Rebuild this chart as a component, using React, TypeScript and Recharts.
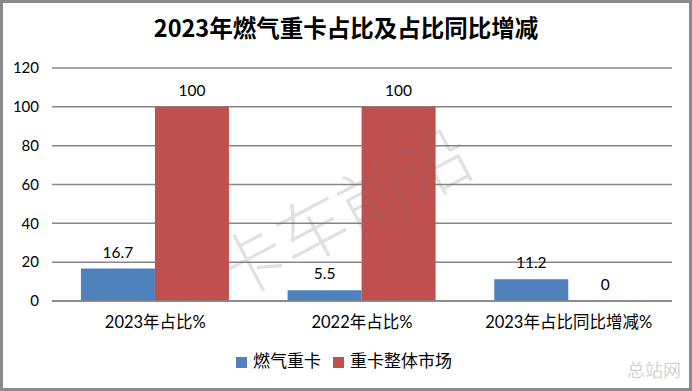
import React from "react";
import { BarChart, Bar, XAxis, YAxis, CartesianGrid, Legend, LabelList } from "recharts";

const categories = ["2023年占比%", "2022年占比%", "2023年占比同比增减%"];
const gasTruck = [16.7, 5.5, 11.2];
const wholeMarket = [100, 100, 0];
const yTicks = [0, 20, 40, 60, 80, 100, 120];

const data = categories.map((name, i) => ({
  name,
  gas: gasTruck[i],
  market: wholeMarket[i],
}));

const FONT = "Lato, 'Noto Sans CJK SC', sans-serif";

export default function App() {
  return (
    <div
      style={{
        position: "absolute",
        left: 0,
        top: 0,
        width: 692,
        height: 391,
        background: "#fff",
        boxSizing: "border-box",
        border: "3px solid #8a8a8a",
        fontFamily: FONT,
        overflow: "hidden",
      }}
    >
      <div
        style={{
          position: "absolute",
          left: 0,
          right: 0,
          top: 7,
          textAlign: "center",
          fontSize: 23.5,
          fontWeight: 700,
          color: "#000",
          fontFamily: "'Noto Sans CJK SC', sans-serif",
        }}
      >
        2023年燃气重卡占比及占比同比增减
      </div>
      <div style={{ position: "absolute", left: -3, top: -3 }}>
        <BarChart
          width={692}
          height={391}
          data={data}
          margin={{ top: 68, right: 20, left: 0, bottom: 10 }}
          barCategoryGap="14%"
          barGap={0}
        >
          <CartesianGrid vertical={false} stroke="#868686" strokeWidth={1.5} />
          <XAxis
            dataKey="name"
            height={46}
            axisLine={{ stroke: "#868686", strokeWidth: 1.5 }}
            tickLine={false}
            tickSize={0}
            tickMargin={15}
            tick={{ fill: "#000", fontSize: 16.5, fontFamily: FONT }}
          />
          <YAxis
            width={52}
            domain={[0, 120]}
            ticks={yTicks}
            axisLine={false}
            tickLine={false}
            tickSize={0}
            tickMargin={13}
            tick={{ fill: "#000", fontSize: 15, fontFamily: FONT }}
          />
          <Legend
            verticalAlign="bottom"
            height={34}
            iconType="square"
            iconSize={11}
            wrapperStyle={{ fontSize: 17, fontFamily: FONT, paddingLeft: 14 }}
            formatter={(v: string) => <span style={{ color: "#000", marginLeft: 2, marginRight: 2 }}>{v}</span>}
          />
          <Bar dataKey="gas" name="燃气重卡" fill="#4F81BD" isAnimationActive={false}>
            <LabelList dataKey="gas" position="top" offset={11} fill="#000" fontSize={15.5} fontFamily={FONT} />
          </Bar>
          <Bar dataKey="market" name="重卡整体市场" fill="#C0504D" minPointSize={0.01} isAnimationActive={false}>
            <LabelList dataKey="market" position="top" offset={11} fill="#000" fontSize={15.5} fontFamily={FONT} />
          </Bar>
        </BarChart>
      </div>
      <div
        style={{
          position: "absolute",
          left: 338 - 170,
          top: 207 - 45,
          width: 340,
          height: 90,
          lineHeight: "90px",
          textAlign: "center",
          fontSize: 70,
          color: "rgba(120,120,120,0.22)",
          transform: "rotate(-28deg)",
          fontFamily: "'Noto Sans CJK SC', sans-serif",
          fontWeight: 300,
          pointerEvents: "none",
        }}
      >
        卡车前沿
      </div>
      <div
        style={{
          position: "absolute",
          right: 8,
          bottom: 6,
          fontSize: 18,
          color: "rgba(200,200,200,0.8)",
          fontFamily: "'Noto Sans CJK SC', sans-serif",
        }}
      >
        总站网
      </div>
    </div>
  );
}
